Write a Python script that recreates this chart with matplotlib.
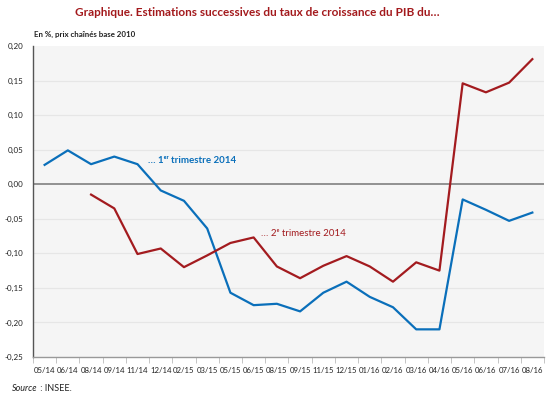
import matplotlib
matplotlib.use("Agg")
import matplotlib.pyplot as plt
import numpy as np

# ---------------------------------------------------------------------------
# Data
# ---------------------------------------------------------------------------
dates = ["05/14", "06/14", "08/14", "09/14", "11/14", "12/14", "02/15", "03/15",
         "05/15", "06/15", "08/15", "09/15", "11/15", "12/15", "01/16", "02/16",
         "03/16", "04/16", "05/16", "06/16", "07/16", "08/16"]

q1_2014 = [0.028, 0.049, 0.029, 0.040, 0.029, -0.009, -0.024, -0.064,
           -0.157, -0.175, -0.173, -0.184, -0.157, -0.141, -0.163, -0.178,
           -0.210, -0.210, -0.022, -0.037, -0.053, -0.041]

q2_2014 = [np.nan, np.nan, -0.015, -0.035, -0.101, -0.093, -0.120, -0.103,
           -0.085, -0.077, -0.119, -0.136, -0.118, -0.104, -0.119, -0.141,
           -0.113, -0.125, 0.146, 0.133, 0.147, 0.181]

y_ticks = [-0.25, -0.20, -0.15, -0.10, -0.05, 0.00, 0.05, 0.10, 0.15, 0.20]

BLUE = "#0a6fba"
RED = "#a31b1f"
TITLE_RED = "#a3191c"
TEXT = "#222222"
FONT = ["Lato", "DejaVu Sans"]

plt.rcParams["font.family"] = FONT

fig = plt.figure(figsize=(5.5, 3.96), dpi=100)
ax = fig.add_axes([0.06, 0.0985, 0.929, 0.7853])
ax.set_facecolor("#f5f5f5")

x = np.arange(len(dates))
ax.plot(x, q1_2014, color=BLUE, linewidth=1.6, zorder=4)
ax.plot(x, q2_2014, color=RED, linewidth=1.6, zorder=4)

ax.set_xlim(-0.5, len(dates) - 0.5)
ax.set_ylim(-0.25, 0.20)

# grid + zero line
for v in y_ticks:
    if v not in (0.0, -0.25, 0.20):
        ax.axhline(v, color="#e6e6e6", linewidth=0.9, zorder=1)
ax.axhline(0.0, color="#808080", linewidth=1.2, zorder=2)

ax.set_yticks(y_ticks)
ax.set_yticklabels([f"{v:.2f}".replace(".", ",") for v in y_ticks],
                   fontsize=5.8, color=TEXT)
ax.tick_params(axis="y", length=0, pad=7)

ax.set_xticks(x)
ax.set_xticklabels(dates, fontsize=5.6, color=TEXT)
ax.set_xticks(np.arange(-0.5, len(dates), 1.0), minor=True)
ax.tick_params(axis="x", which="major", length=0, pad=7)
ax.tick_params(axis="x", which="minor", length=4, color="#bbbbbb", direction="out")

for side in ("top", "right"):
    ax.spines[side].set_visible(False)
ax.spines["left"].set_color("#555555")
ax.spines["left"].set_linewidth(1.0)
ax.spines["bottom"].set_color("#999999")
ax.spines["bottom"].set_linewidth(1.0)

# series labels
ax.text(4.47, 0.035, "… 1ᵉʳ trimestre 2014", color=BLUE, fontsize=7,
        fontweight="bold", va="center", ha="left")
ax.text(9.3, -0.071, "… 2ᵉ trimestre 2014", color=RED, fontsize=7,
        va="center", ha="left")

# titles and source
fig.text(0.468, 0.968, "Graphique. Estimations successives du taux de croissance du PIB du…",
         color=TITLE_RED, fontsize=8.5, fontweight="bold", ha="center", va="center")
fig.text(0.061, 0.912, "En %, prix chaînés base 2010", color=TEXT, fontsize=5.7,
         fontweight="bold", ha="left", va="center")
src = fig.text(0.022, 0.018, "Source", color=TEXT, fontsize=6.5, style="italic",
               ha="left", va="center")
ax.annotate(" : INSEE.", xy=(1, 0.5), xycoords=src, color=TEXT, fontsize=6.5,
            ha="left", va="center", annotation_clip=False)

fig.savefig("out.png", dpi=100)
